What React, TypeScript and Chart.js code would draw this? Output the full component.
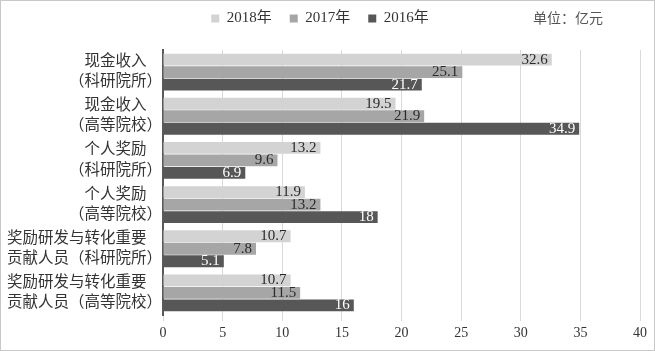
import React, { useEffect, useRef } from "react";
import { Chart, registerables } from "chart.js";

Chart.register(...registerables);

const categories: string[][] = [
  ["现金收入　", "（科研院所）"],
  ["现金收入　", "（高等院校）"],
  ["个人奖励　", "（科研院所）"],
  ["个人奖励　", "（高等院校）"],
  ["奖励研发与转化重要　", "贡献人员（科研院所）"],
  ["奖励研发与转化重要　", "贡献人员（高等院校）"],
];
const seriesNames = ["2018年", "2017年", "2016年"];
const values2018 = [32.6, 19.5, 13.2, 11.9, 10.7, 10.7];
const values2017 = [25.1, 21.9, 9.6, 13.2, 7.8, 11.5];
const values2016 = [21.7, 34.9, 6.9, 18, 5.1, 16];
const xTicks = [0, 5, 10, 15, 20, 25, 30, 35, 40];
const unitText = "单位：亿元";

const colors = ["#d3d3d3", "#a6a6a6", "#575757"];
const labelColors = ["#2b2b2b", "#2b2b2b", "#ffffff"];
const SERIF = '"Liberation Serif", "Noto Sans CJK SC", serif';
const SANS = '"Noto Sans CJK SC", "Noto Sans", sans-serif';

export default function App() {
  const ref = useRef<HTMLCanvasElement | null>(null);
  useEffect(() => {
    document.body.style.margin = "0";
    const canvas = ref.current;
    if (!canvas) return;
    const extras = {
      id: "extras",
      beforeInit(chart: any) {
        const lg = chart.legend;
        if (lg) {
          const orig = lg.fit;
          lg.fit = function () {
            orig.call(this);
            this.height = 57;
          };
        }
      },
      afterDatasetsDraw(chart: any) {
        const ctx = chart.ctx;
        ctx.save();
        ctx.font = `15px ${SERIF}`;
        ctx.textAlign = "right";
        ctx.textBaseline = "middle";
        chart.data.datasets.forEach((ds: any, di: number) => {
          const meta = chart.getDatasetMeta(di);
          meta.data.forEach((bar: any, i: number) => {
            ctx.fillStyle = labelColors[di];
            ctx.fillText(String(ds.data[i]), bar.x - 4, bar.y);
          });
        });
        ctx.restore();
      },
      afterDraw(chart: any) {
        const ctx = chart.ctx;
        ctx.save();
        ctx.strokeStyle = "#c8c8c8";
        ctx.lineWidth = 1;
        ctx.strokeRect(0.5, 0.5, chart.width - 1, chart.height - 1);
        ctx.font = `14px ${SANS}`;
        ctx.fillStyle = "#555555";
        ctx.textAlign = "left";
        ctx.textBaseline = "middle";
        ctx.fillText(unitText, 533, 18);
        ctx.restore();
      },
    };
    const chart = new Chart(canvas, {
      type: "bar",
      data: {
        labels: categories,
        datasets: [values2018, values2017, values2016].map((d, i) => ({
          label: seriesNames[i],
          data: d,
          backgroundColor: colors[i],
          borderWidth: 0,
          barPercentage: 0.95,
          categoryPercentage: 0.85,
        })),
      },
      options: {
        indexAxis: "y",
        responsive: false,
        animation: false,
        devicePixelRatio: 1,
        layout: { padding: { top: -7, right: 15, bottom: 0, left: 0 } },
        plugins: {
          legend: {
            position: "top",
            labels: {
              boxWidth: 8,
              boxHeight: 8,
              padding: 18,
              color: "#333333",
              font: { size: 15, family: SERIF },
            },
          },
          tooltip: { enabled: false },
        },
        scales: {
          x: {
            min: 0,
            max: 40,
            afterBuildTicks(scale: any) {
              scale.ticks = xTicks.map((v) => ({ value: v }));
            },
            afterFit(scale: any) {
              scale.height = 36;
            },
            grid: { color: "#d9d9d9", lineWidth: 1, tickLength: 6, drawTicks: true },
            border: { display: false },
            ticks: { color: "#333333", padding: 4, font: { size: 14, family: SERIF } },
          },
          y: {
            afterFit(scale: any) {
              scale.width = 163;
            },
            grid: { display: false, drawTicks: false },
            border: { display: true, color: "#595959", width: 2 },
            ticks: {
              color: "#333333",
              padding: 1,
              crossAlign: "near",
              font: { size: 15.5, family: SERIF, lineHeight: 1.3 },
            },
          },
        },
      },
      plugins: [extras],
    } as any);
    return () => chart.destroy();
  }, []);
  return (
    <div style={{ width: 655, height: 351 }}>
      <canvas ref={ref} width={655} height={351} />
    </div>
  );
}
